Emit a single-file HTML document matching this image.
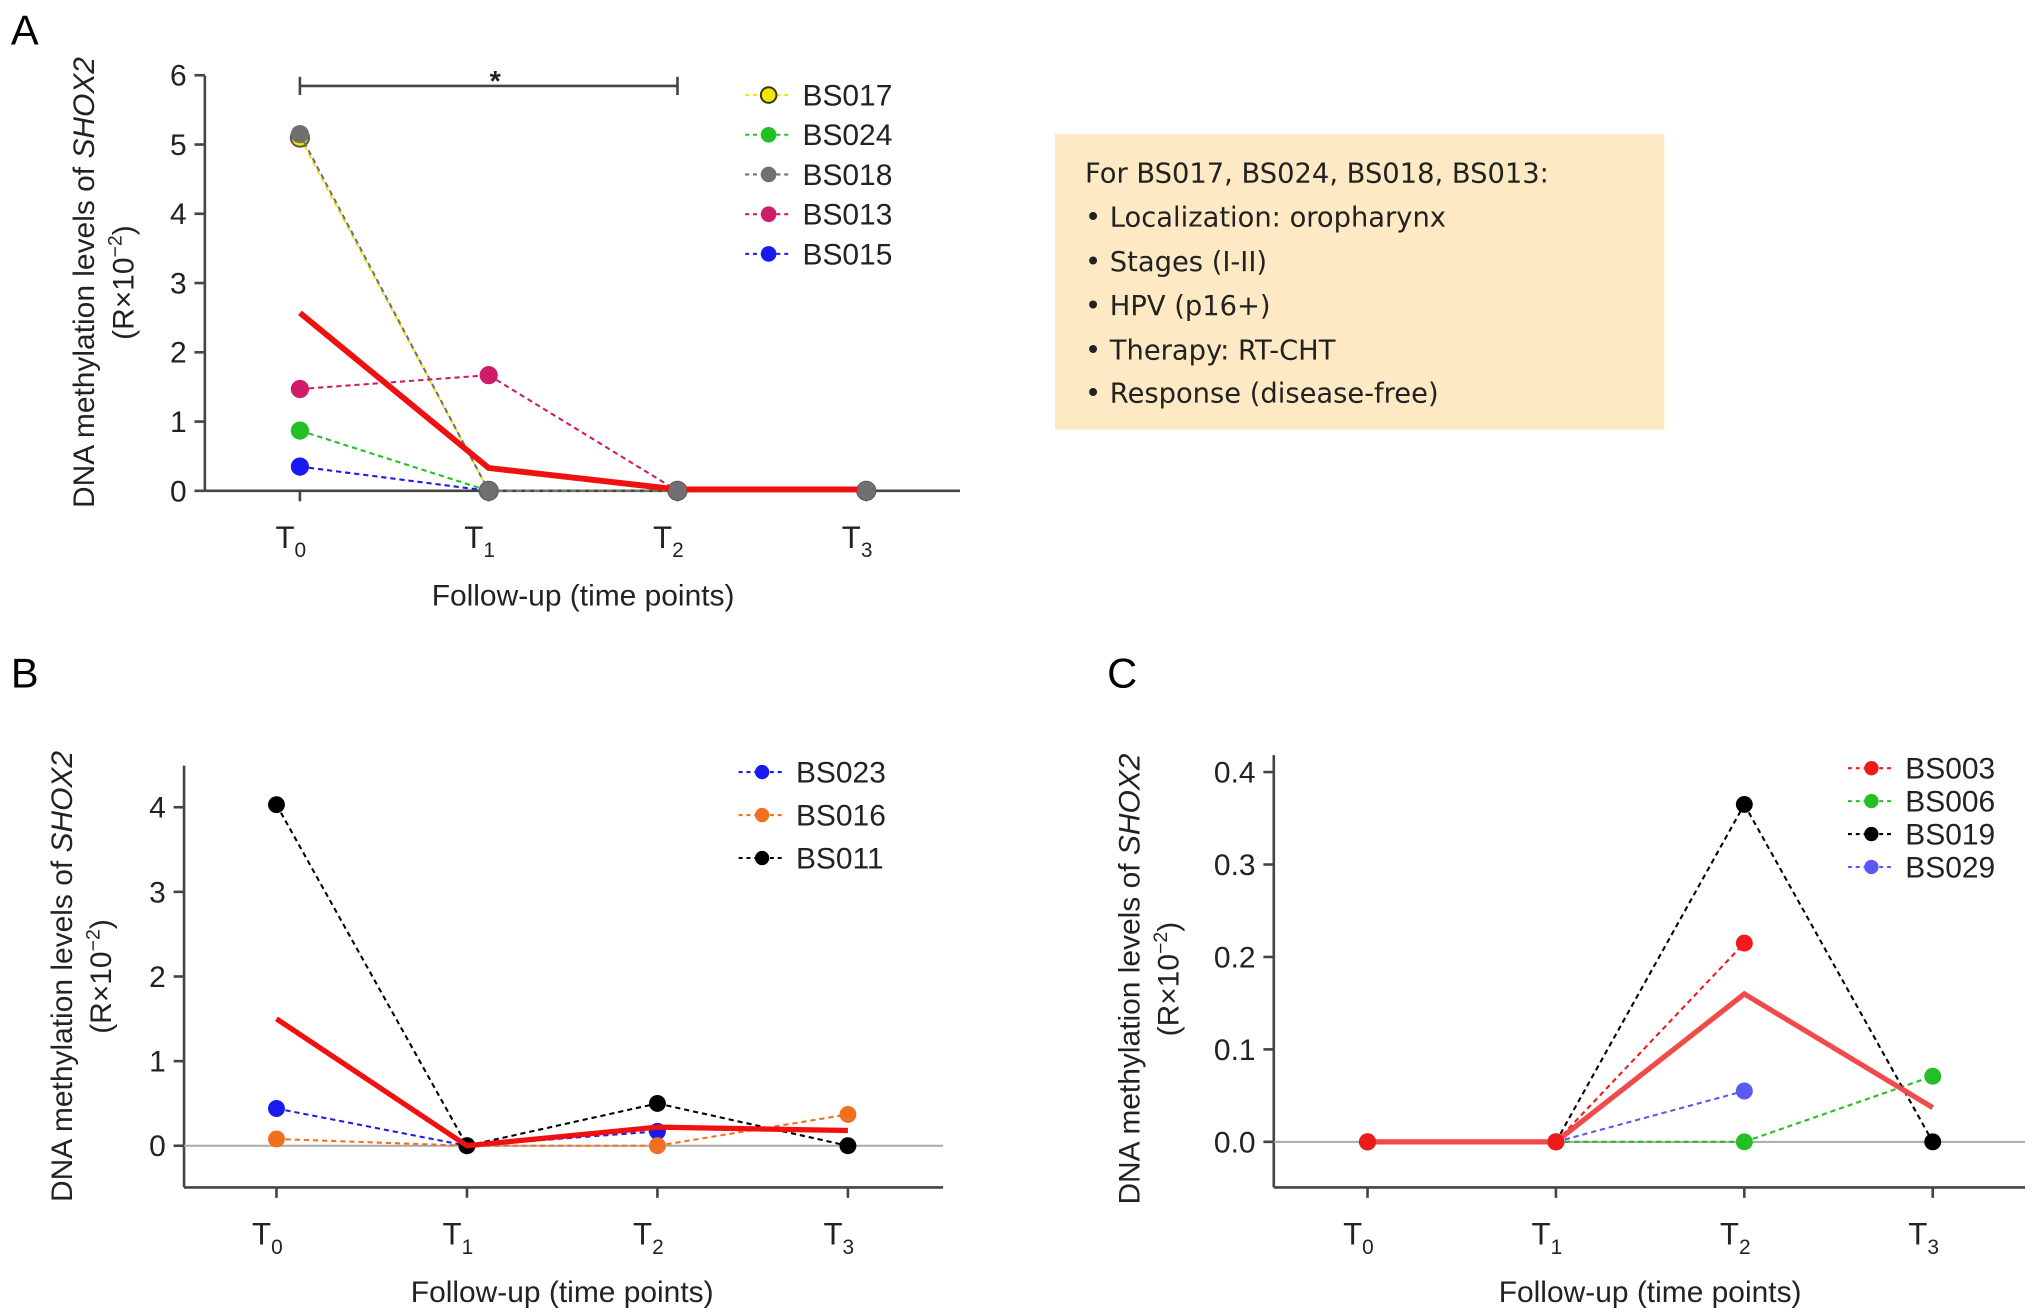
<!DOCTYPE html>
<html><head><meta charset="utf-8"><style>html,body{margin:0;padding:0;background:#fff}svg{display:block}</style></head>
<body>
<svg id="fig" xmlns="http://www.w3.org/2000/svg" width="2032" height="1315" viewBox="0 0 1560 1010" font-family="Liberation Sans, Arial, sans-serif">
<rect width="1560" height="1010" fill="#fff"/>
<text x="8" y="34" font-size="32">A</text>
<text x="8" y="528" font-size="32">B</text>
<text x="850" y="528" font-size="32">C</text>
<g>
<rect x="810" y="103" width="468" height="227" fill="#fde9c3"/>
<g font-family="DejaVu Sans, Liberation Sans, sans-serif" font-size="21" fill="#222">
<text x="833" y="140">For BS017, BS024, BS018, BS013:</text>
<text x="833" y="174">•  Localization: oropharynx</text>
<text x="833" y="208">•  Stages (I-II)</text>
<text x="833" y="242">•  HPV (p16+)</text>
<text x="833" y="276">•  Therapy: RT-CHT</text>
<text x="833" y="309">•  Response (disease-free)</text>
</g></g>
<g id="pa"></g><g id="pb"></g><g id="pc"></g>
</svg>
<script>
const timeLabels = ["0","1","2","3"];
// Panel A
const aNames = ["BS017","BS024","BS018","BS013","BS015"];
const aColors = ["#f2e600","#22c022","#707070","#d01a6a","#1a1af0"];
const aBS017 = [5.1,0,0,0];
const aBS024 = [0.87,0,0,0];
const aBS018 = [5.15,0,0,0];
const aBS013 = [1.47,1.67,0,null];
const aBS015 = [0.35,0,null,null];
const aMean = [2.57,0.33,0.02,0.02];
const aTicks = [0,1,2,3,4,5,6];
// Panel B
const bNames = ["BS023","BS016","BS011"];
const bColors = ["#1a1af0","#f07020","#000000"];
const bBS023 = [0.44,0,0.17,null];
const bBS016 = [0.08,0,0,0.37];
const bBS011 = [4.03,0,0.5,0];
const bMean = [1.5,0,0.22,0.18];
const bTicks = [0,1,2,3,4];
// Panel C
const cNames = ["BS003","BS006","BS019","BS029"];
const cColors = ["#f01a1a","#22c022","#000000","#5a5af0"];
const cBS003 = [0,0,0.215,null];
const cBS006 = [0,0,0,0.071];
const cBS019 = [0,0,0.365,0];
const cBS029 = [null,0,0.055,null];
const cMean = [0,0,0.16,0.037];
const cTicks = ["0.0","0.1","0.2","0.3","0.4"];

const NS="http://www.w3.org/2000/svg";
function mk(parent,tag,attrs,txt){const e=document.createElementNS(NS,tag);for(const k in attrs)e.setAttribute(k,attrs[k]);if(txt!==undefined)e.textContent=txt;parent.appendChild(e);return e;}

function panel(g,cfg){
  const xs=i=>cfg.x0+i*cfg.dx, ys=v=>cfg.y0-v*cfg.k;
  const ax=mk(g,'g',{});
  
  
  mk(ax,'line',{x1:cfg.ax,y1:cfg.yTop,x2:cfg.ax,y2:cfg.yBot,stroke:'#444','stroke-width':2});
  mk(ax,'line',{x1:cfg.ax,y1:cfg.xAxisY,x2:cfg.axEnd,y2:cfg.xAxisY,stroke:'#444','stroke-width':2});
  if(cfg.zeroLine) mk(ax,'line',{x1:cfg.ax,y1:cfg.y0,x2:cfg.axEnd,y2:cfg.y0,stroke:'#aaa','stroke-width':1.5});
  cfg.ticks.forEach(t=>{const y=ys(parseFloat(t));
    mk(ax,'line',{x1:cfg.ax-8,y1:y,x2:cfg.ax,y2:y,stroke:'#444','stroke-width':2});
    const tl=mk(ax,'text',{x:cfg.ax-14,y:y+8,'font-size':23,'text-anchor':'end',fill:'#222'},t);
    
    });
  timeLabels.forEach((t,i)=>{const x=xs(i);
    mk(ax,'line',{x1:x,y1:cfg.xAxisY,x2:x,y2:cfg.xAxisY+8,stroke:'#444','stroke-width':2});
    const tl=mk(ax,'text',{x:x-7,y:cfg.xAxisY+44,'font-size':24,'text-anchor':'middle',fill:'#222'});
    
    
    mk(tl,'tspan',{},'T');mk(tl,'tspan',{'font-size':16,dy:7},t);});
  const xt=mk(ax,'text',{x:(xs(0)+xs(3))/2,y:cfg.xAxisY+88,'font-size':23,'text-anchor':'middle',fill:'#222'},'Follow-up (time points)');
  
  
  const yt=mk(ax,'text',{transform:`translate(${cfg.ytx},${cfg.ytY}) rotate(-90)`,'font-size':23,'text-anchor':'middle',fill:'#222'});
  
  
  mk(yt,'tspan',{},'DNA methylation levels of ');mk(yt,'tspan',{'font-style':'italic'},'SHOX2');
  const yt2=mk(ax,'text',{transform:`translate(${cfg.ytx+30},${cfg.ytY}) rotate(-90)`,'font-size':23,'text-anchor':'middle',fill:'#222'});
  
  
  mk(yt2,'tspan',{},'(R×10');mk(yt2,'tspan',{'font-size':15,dy:-9},'−2');mk(yt2,'tspan',{dy:9},')');
  cfg.series.forEach((s,si)=>{
    const sg=mk(g,'g',{});
    
    
    const col=cfg.colors[si];
    for(let i=0;i<s.length-1;i++){ if(s[i]==null||s[i+1]==null)continue;
      mk(sg,'line',{x1:xs(i),y1:ys(s[i]),x2:xs(i+1),y2:ys(s[i+1]),stroke:col,'stroke-width':1.6,'stroke-dasharray':'4,3'});}
    s.forEach((v,i)=>{ if(v==null)return;
      const c=mk(sg,'circle',{cx:xs(i),cy:ys(v),r:cfg.r,fill:col,stroke:cfg.names[si]==='BS017'?'#555':'none','stroke-width':1.5});
      
      });
  });
  const mg=mk(g,'polyline',{points:cfg.mean.map((v,i)=>xs(i)+','+ys(v)).join(' '),fill:'none',stroke:cfg.meanColor,'stroke-width':cfg.mw||4});
  
  
  if(cfg.front) cfg.front(xs,ys);
  cfg.names.forEach((n,i)=>{const y=cfg.lgY+i*cfg.lgDy;
    const lg=mk(g,'g',{});
    
    
    mk(lg,'line',{x1:cfg.lgX-18,y1:y,x2:cfg.lgX+18,y2:y,stroke:cfg.colors[i],'stroke-width':1.6,'stroke-dasharray':'3,3'});
    mk(lg,'circle',{cx:cfg.lgX,cy:y,r:cfg.r-1,fill:cfg.colors[i],stroke:n==='BS017'?'#333':'none','stroke-width':1.5});
    mk(lg,'text',{x:cfg.lgX+26,y:y+8,'font-size':23,fill:'#222'},n);});
}
const ga=document.getElementById('pa');
panel(ga,{id:'panel-a',x0:230,dx:145,y0:377,k:53.2,ax:157,axEnd:737,yTop:58,yBot:377,xAxisY:377,zeroLine:false,
  ticks:aTicks.map(String),ytx:72,ytY:217,r:7,mw:4.5,
  series:[aBS017,aBS024,aBS018,aBS013,aBS015],names:aNames,colors:aColors,mean:aMean,meanColor:'#f01010',
  lgX:590,lgY:73,lgDy:30.5,
  front:(xs,ys)=>{
    aBS018.forEach((v,i)=>{ if(i>0){mk(ga,'circle',{cx:xs(i),cy:ys(v),r:7,fill:'#707070'});} });
  }});
const sig=mk(ga,'g',{});


mk(sig,'line',{x1:230,y1:66,x2:520,y2:66,stroke:'#444','stroke-width':2});
mk(sig,'line',{x1:230,y1:59,x2:230,y2:73,stroke:'#444','stroke-width':2});
mk(sig,'line',{x1:520,y1:59,x2:520,y2:73,stroke:'#444','stroke-width':2});
mk(sig,'text',{x:380,y:70,'font-size':22,'text-anchor':'middle','font-weight':'bold',fill:'#222'},'*');

panel(document.getElementById('pb'),{id:'panel-b',x0:212,dx:146.3,y0:880,k:65,ax:141,axEnd:724,yTop:588,yBot:912,xAxisY:912,zeroLine:true,
  ticks:bTicks.map(String),ytx:55,ytY:750,r:6.5,
  series:[bBS023,bBS016,bBS011],names:bNames,colors:bColors,mean:bMean,meanColor:'#f01010',
  lgX:585,lgY:593,lgDy:33});
const gc=document.getElementById('pc');
panel(gc,{id:'panel-c',x0:1050,dx:144.7,y0:877,k:710,ax:978,axEnd:1555,yTop:580,yBot:912,xAxisY:912,zeroLine:true,
  ticks:cTicks,ytx:875,ytY:752,r:6.5,
  series:[cBS003,cBS006,cBS019,cBS029],names:cNames,colors:cColors,mean:cMean,meanColor:'#f04a4a',
  lgX:1437,lgY:590,lgDy:25.3,
  front:(xs,ys)=>{
    cBS003.forEach((v,i)=>{ if(v!=null && i<2){mk(gc,'circle',{cx:xs(i),cy:ys(v),r:6.5,fill:'#f01a1a'});} });
  }});
</script>
</body></html>
